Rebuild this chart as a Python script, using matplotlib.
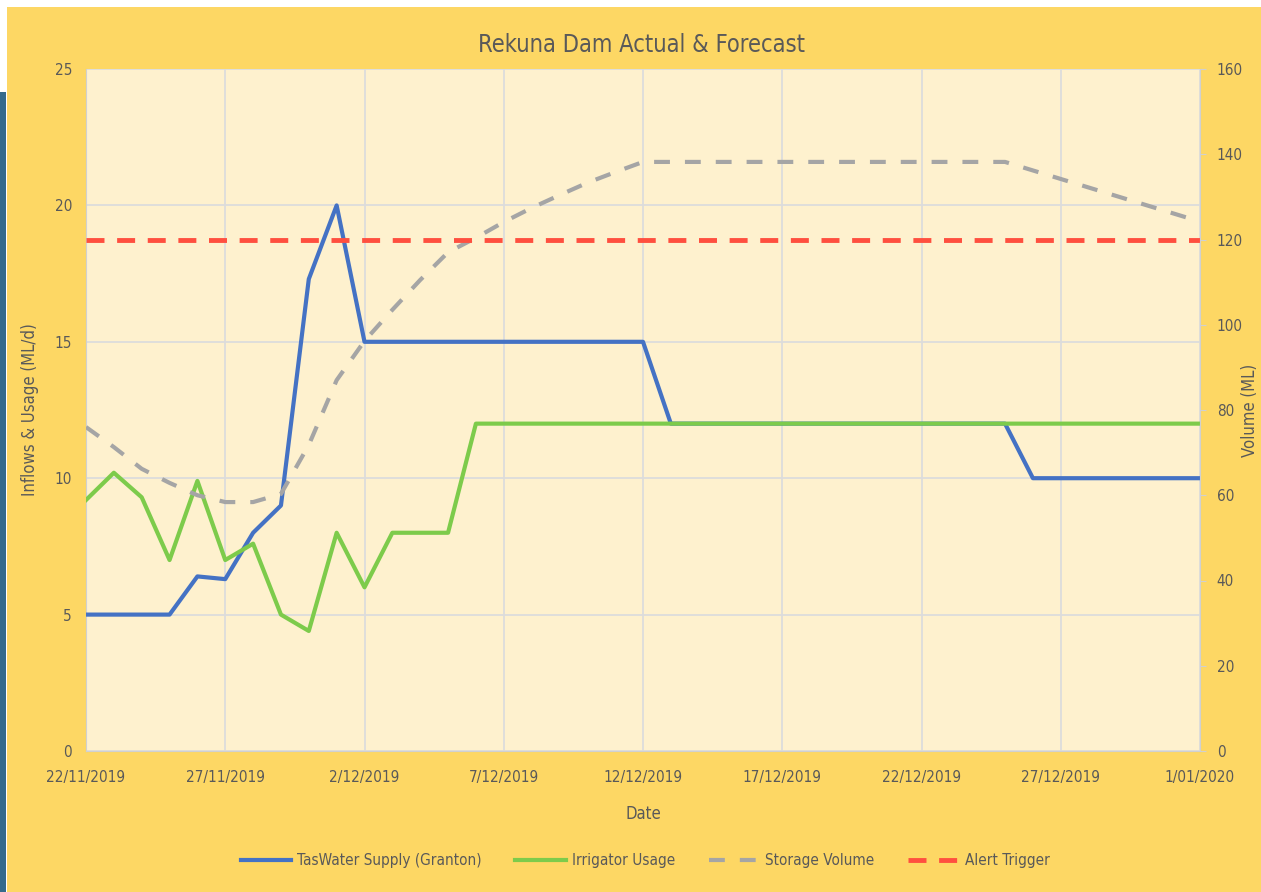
import matplotlib
matplotlib.use("Agg")
import matplotlib.pyplot as plt
import matplotlib.patches as mpatches
import pandas as pd

# ---- data ----
dates = pd.date_range("2019-11-22", "2020-01-01", freq="D")
taswater = [5, 5, 5, 5, 6.4, 6.3, 8, 9, 17.3, 20, 15, 15, 15, 15, 15, 15, 15, 15, 15, 15, 15,
            12, 12, 12, 12, 12, 12, 12, 12, 12, 12, 12, 12, 12, 10, 10, 10, 10, 10, 10, 10]
irrigator = [9.2, 10.2, 9.3, 7, 9.9, 7, 7.6, 5, 4.4, 8, 6, 8, 8, 8, 12, 12, 12, 12, 12, 12, 12,
             12, 12, 12, 12, 12, 12, 12, 12, 12, 12, 12, 12, 12, 12, 12, 12, 12, 12, 12, 12]
storage = [76, 71.3, 66.2, 62.9, 60, 58.4, 58.4, 60.3, 71.8, 87, 96.2, 103.5, 110.5, 117, 120.4,
           124.1, 127.4, 130.4, 133.3, 135.8, 138.2, 138.2, 138.2, 138.2, 138.2, 138.2, 138.2,
           138.2, 138.2, 138.2, 138.2, 138.2, 138.2, 138.2, 136.2, 134.2, 132.2, 130.2, 128.2,
           126.2, 124.2]
alert_level = 120
tick_dates = pd.date_range("2019-11-22", "2020-01-01", freq="5D")
tick_labels = ["22/11/2019", "27/11/2019", "2/12/2019", "7/12/2019", "12/12/2019",
               "17/12/2019", "22/12/2019", "27/12/2019", "1/01/2020"]
left_ticks = [0, 5, 10, 15, 20, 25]
right_ticks = [0, 20, 40, 60, 80, 100, 120, 140, 160]

plt.rcParams['font.family'] = ['DejaVu Sans']
plt.rcParams['font.stretch'] = 'condensed'
TXT = "#595959"
GOLD = "#FDD764"
PLOTBG = "#FEF1CE"
GRID = "#DCDCDC"

W, H = 1261, 892
fig = plt.figure(figsize=(W / 100, H / 100), dpi=100, facecolor="white")
fig.patches.append(mpatches.Rectangle((0, 0), 6 / W, 1 - 92 / H, transform=fig.transFigure,
                                      facecolor="#356A8C", edgecolor="none", zorder=-2))
fig.patches.append(mpatches.Rectangle((7 / W, 0), 1 - 7 / W, 1 - 7 / H, transform=fig.transFigure,
                                      facecolor=GOLD, edgecolor="none", zorder=-1))

ax = fig.add_axes([86 / W, 1 - 751 / H, (1200 - 86) / W, (751 - 69) / H])
ax.set_facecolor(PLOTBG)
ax2 = ax.twinx()

l1, = ax.plot(dates, taswater, color="#4472C4", lw=3, label="TasWater Supply (Granton)", zorder=3)
l2, = ax.plot(dates, irrigator, color="#7DCB4B", lw=3, label="Irrigator Usage", zorder=3)
l3, = ax2.plot(dates, storage, color="#A5A5A5", lw=3, ls=(0, (3.8, 3.6)), label="Storage Volume")
l4, = ax2.plot([dates[0], dates[-1]], [alert_level, alert_level], color="#FF4F3F", lw=3.5,
               ls=(0, (3.7, 2.6)), label="Alert Trigger")

ax.set_xlim(dates[0], dates[-1])
ax.set_ylim(0, 25)
ax2.set_ylim(0, 160)
ax.set_xticks(tick_dates)
ax.set_xticklabels(tick_labels)
ax.set_yticks(left_ticks)
ax2.set_yticks(right_ticks)

ax.grid(True, color=GRID, lw=1.3)
ax.set_axisbelow(True)
for a in (ax, ax2):
    for s in a.spines.values():
        s.set_visible(False)
ax.spines['left'].set_visible(True)
ax.spines['left'].set_color("#D0D0D0")
ax.spines['bottom'].set_visible(True)
ax.spines['bottom'].set_color("#D0D0D0")
ax2.spines['right'].set_visible(True)
ax2.spines['right'].set_color("#D0D0D0")

ax.tick_params(axis='both', length=0, labelsize=11, colors=TXT, pad=10)
ax.tick_params(axis='x', pad=14)
ax2.tick_params(axis='y', length=4, color="#D0D0D0", labelsize=11, labelcolor=TXT, pad=8)

ax.set_xlabel("Date", fontsize=12, color=TXT, labelpad=14)
fig.text(30 / W, 1 - 410 / H, "Inflows & Usage (ML/d)", rotation=90, ha="center", va="center",
         fontsize=12, color=TXT)
fig.text(1250 / W, 1 - 410 / H, "Volume (ML)", rotation=90, ha="center", va="center",
         fontsize=12, color=TXT)
fig.text(641 / W, 1 - 45 / H, "Rekuna Dam Actual & Forecast", ha="center", va="center",
         fontsize=17, color=TXT)

fig.legend(handles=[l1, l2, l3, l4], loc="center", bbox_to_anchor=(645 / W, 1 - 861 / H),
           ncol=4, frameon=False, fontsize=11, labelcolor=TXT, handlelength=3.3,
           columnspacing=2.2, handletextpad=0.4)

fig.savefig("out.png", dpi=100, facecolor=fig.get_facecolor())
